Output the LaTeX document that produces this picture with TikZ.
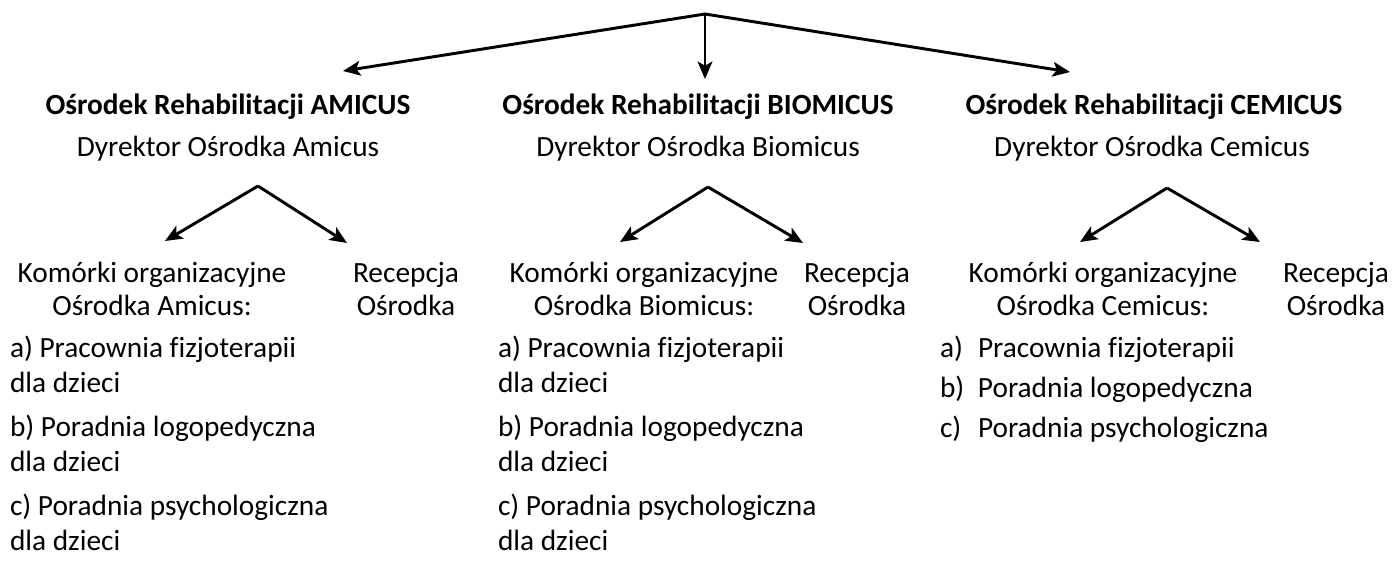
\documentclass[tikz,border=0pt]{standalone}
\usepackage{fontspec}
\setmainfont[Ligatures=CommonOff]{Carlito}
\usetikzlibrary{arrows.meta}
\begin{document}
\begin{tikzpicture}[x=0.75pt,y=-0.75pt,
  every node/.style={inner sep=0pt,outer sep=0pt,font=\fontsize{22}{24.75}\selectfont},
  conn/.style={line width=2.2pt,-{Stealth[length=13pt,width=11pt,inset=3pt]}},
  ttl/.style={font=\fontsize{22}{24.75}\selectfont\bfseries},
  txt/.style={align=center},
  item/.style={anchor=north west,align=left,font=\fontsize{22}{26.25}\selectfont}]
\useasboundingbox (0,0) rectangle (1394,562);
% top
\coordinate (top) at (705,14);
\coordinate (ta) at (343,71);
\coordinate (tb) at (705,79);
\coordinate (tc) at (1070,72);
\draw[conn] (top) -- (ta);
\draw[conn] (top) -- (tb);
\draw[conn] (top) -- (tc);
% titles
\node[ttl] (titA) at (228,107) {Ośrodek Rehabilitacji AMICUS};
\node[ttl] (titB) at (698,107) {Ośrodek Rehabilitacji BIOMICUS};
\node[ttl] (titC) at (1154,107) {Ośrodek Rehabilitacji CEMICUS};
\node (dirA) at (228,149) {Dyrektor Ośrodka Amicus};
\node (dirB) at (698,149) {Dyrektor Ośrodka Biomicus};
\node (dirC) at (1152,149) {Dyrektor Ośrodka Cemicus};
% second-level
\coordinate (apA) at (258,186);
\coordinate (apB) at (708,187);
\coordinate (apC) at (1167,188);
\coordinate (kA) at (165,241);
\coordinate (rA) at (347,243);
\coordinate (kB) at (620,242);
\coordinate (rB) at (803,243);
\coordinate (kC) at (1080,242);
\coordinate (rC) at (1260,242);
\draw[conn] (apA) -- (kA);
\draw[conn] (apA) -- (rA);
\draw[conn] (apB) -- (kB);
\draw[conn] (apB) -- (rB);
\draw[conn] (apC) -- (kC);
\draw[conn] (apC) -- (rC);
\node[txt] (komA) at (152,289) {Komórki organizacyjne\\Ośrodka Amicus:};
\node[txt] (recA) at (406,289) {Recepcja\\Ośrodka};
\node[txt] (komB) at (644,289) {Komórki organizacyjne\\Ośrodka Biomicus:};
\node[txt] (recB) at (857,289) {Recepcja\\Ośrodka};
\node[txt] (komC) at (1103,289) {Komórki organizacyjne\\Ośrodka Cemicus:};
\node[txt] (recC) at (1336,289) {Recepcja\\Ośrodka};
% lists
\node[item] (a1) at (10,336) {a) Pracownia fizjoterapii\\dla dzieci};
\node[item] (b1) at (10,415) {b) Poradnia logopedyczna\\dla dzieci};
\node[item] (c1) at (10,494) {c) Poradnia psychologiczna\\dla dzieci};
\node[item] (a2) at (498,336) {a) Pracownia fizjoterapii\\dla dzieci};
\node[item] (b2) at (498,415) {b) Poradnia logopedyczna\\dla dzieci};
\node[item] (c2) at (498,494) {c) Poradnia psychologiczna\\dla dzieci};
\node[item] (a3) at (940,336) {\makebox[28.5pt][l]{a)}Pracownia fizjoterapii};
\node[item] (b3) at (940,376) {\makebox[28.5pt][l]{b)}Poradnia logopedyczna};
\node[item] (c3) at (940,416) {\makebox[28.5pt][l]{c)}Poradnia psychologiczna};
\end{tikzpicture}
\end{document}
